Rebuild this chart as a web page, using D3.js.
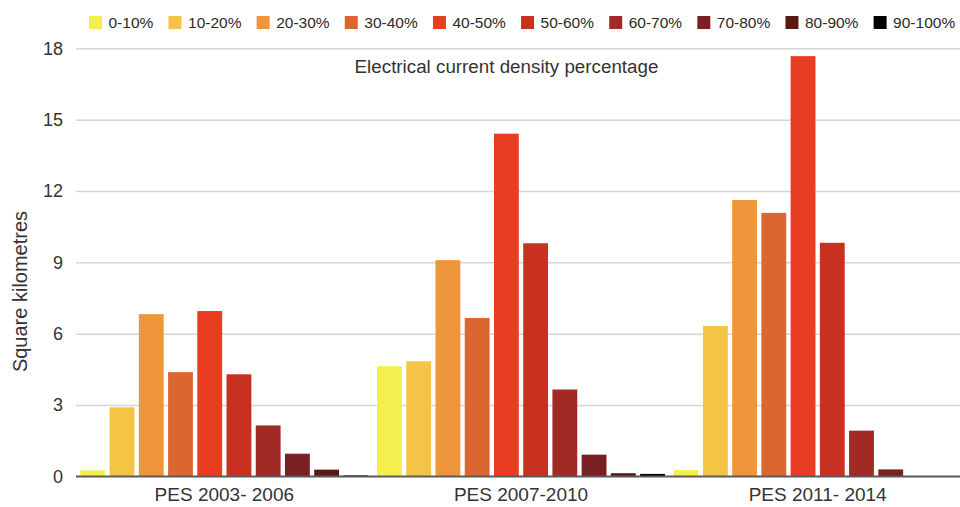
<!DOCTYPE html>
<html>
<head>
<meta charset="utf-8">
<script src="https://cdn.jsdelivr.net/npm/d3@7"></script>
<style>
  html, body { margin: 0; padding: 0; background: #fff; }
  svg { display: block; font-family: "Liberation Sans", Arial, sans-serif; }
</style>
</head>
<body>
<svg id="chart" width="960" height="507"></svg>
<script>
// Survey periods along the x axis
const periods = ["PES 2003- 2006", "PES 2007-2010", "PES 2011- 2014"];

// Current density bands (one bar per band in each period)
const bands = ["0-10%", "10-20%", "20-30%", "30-40%", "40-50%",
               "50-60%", "60-70%", "70-80%", "80-90%", "90-100%"];

// Area (km²) per density band, for each period
const pes2003 = [0.25, 2.9, 6.82, 4.38, 6.95, 4.29, 2.14, 0.95, 0.28, 0.04];
const pes2007 = [4.63, 4.84, 9.09, 6.66, 14.41, 9.8, 3.65, 0.91, 0.13, 0.1];
const pes2011 = [0.26, 6.32, 11.62, 11.08, 17.67, 9.82, 1.92, 0.29, 0, 0];

const yTicks = [0, 3, 6, 9, 12, 15, 18];

const bandColors = ["#f4ef4e", "#f5c445", "#ef953b", "#dc6630", "#e83d23",
                    "#c8311f", "#a12a25", "#7a2024", "#5a1714", "#000000"];

const seriesByPeriod = [pes2003, pes2007, pes2011];

const svg = d3.select("#chart");
const plot = { left: 76, right: 966, top: 48.3, bottom: 476.3 };

const x0 = d3.scaleBand().domain(periods).range([plot.left, plot.right]).padding(0);
const x1 = d3.scaleBand().domain(bands).range([0, x0.bandwidth()]).padding(0.15);
const y = d3.scaleLinear().domain([0, 18]).range([plot.bottom, plot.top]);
const color = d3.scaleOrdinal().domain(bands).range(bandColors);

// Horizontal gridlines and tick labels
const yAxis = d3.axisLeft(y).tickValues(yTicks).tickSize(-(960 - plot.left)).tickPadding(13);
const gy = svg.append("g").attr("transform", `translate(${plot.left},0)`).call(yAxis);
gy.select(".domain").remove();
gy.selectAll(".tick line")
  .attr("stroke", d => d === 0 ? "#5a5a5a" : "#d6d6d6")
  .attr("stroke-width", 1.5);
gy.selectAll(".tick text")
  .attr("fill", "#333")
  .style("font-size", "18px")
  .style("font-family", "'Liberation Sans', Arial, sans-serif");

// Bars
const groups = svg.append("g").selectAll("g")
  .data(periods)
  .join("g")
  .attr("transform", d => `translate(${x0(d)},0)`);

groups.selectAll("rect")
  .data((p, i) => bands.map((b, j) => ({ band: b, value: seriesByPeriod[i][j] })))
  .join("rect")
  .attr("x", d => x1(d.band))
  .attr("width", x1.bandwidth())
  .attr("y", d => y(d.value))
  .attr("height", d => y(0) - y(d.value))
  .attr("fill", d => color(d.band));

// Redraw the baseline over the bars
svg.append("line")
  .attr("x1", plot.left).attr("x2", 960)
  .attr("y1", y(0)).attr("y2", y(0))
  .attr("stroke", "#5a5a5a").attr("stroke-width", 1.5);

// Period labels
const xAxis = d3.axisBottom(x0).tickSize(0).tickPadding(11);
const gx = svg.append("g").attr("transform", `translate(0,${plot.bottom})`).call(xAxis);
gx.select(".domain").remove();
gx.selectAll(".tick text")
  .attr("fill", "#333")
  .style("font-size", "19px")
  .style("font-family", "'Liberation Sans', Arial, sans-serif");

// Y axis title
svg.append("text")
  .attr("transform", "translate(27,291.5) rotate(-90)")
  .attr("text-anchor", "middle")
  .attr("fill", "#333")
  .style("font-size", "20px")
  .text("Square kilometres");

// Chart title
svg.append("text")
  .attr("x", 506.5).attr("y", 73)
  .attr("text-anchor", "middle")
  .attr("fill", "#333")
  .style("font-size", "18.8px")
  .text("Electrical current density percentage");

// Legend across the top
const legend = svg.append("g").attr("transform", "translate(89,16)");
let lx = 0;
bands.forEach(b => {
  const item = legend.append("g").attr("transform", `translate(${lx},0)`);
  item.append("rect").attr("width", 13).attr("height", 13).attr("fill", color(b));
  const t = item.append("text")
    .attr("x", 19.5).attr("y", 12)
    .attr("fill", "#2a2a2a")
    .style("font-size", "15.5px")
    .text(b);
  lx += 19.5 + t.node().getComputedTextLength() + 15.2;
});
</script>
</body>
</html>
